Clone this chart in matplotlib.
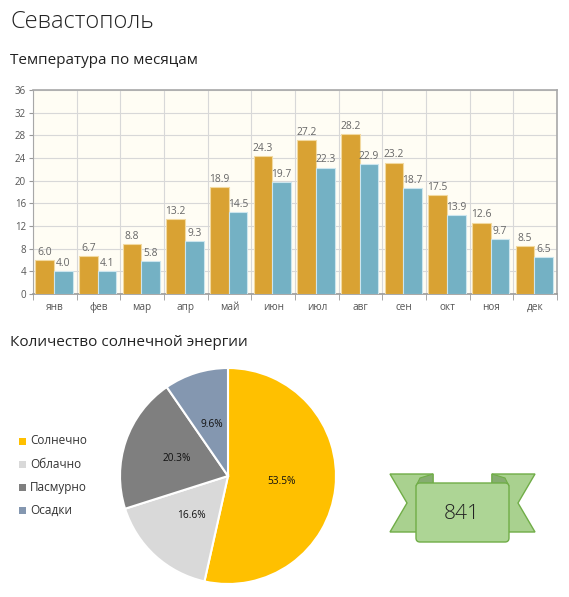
import matplotlib
matplotlib.use("Agg")
import matplotlib.pyplot as plt
from matplotlib.patches import Polygon, FancyBboxPatch, Rectangle
import numpy as np

plt.rcParams['font.family'] = ['Open Sans', 'DejaVu Sans']

months = ["янв", "фев", "мар", "апр", "май", "июн", "июл", "авг", "сен", "окт", "ноя", "дек"]
t_max = [6.0, 6.7, 8.8, 13.2, 18.9, 24.3, 27.2, 28.2, 23.2, 17.5, 12.6, 8.5]
t_min = [4.0, 4.1, 5.8, 9.3, 14.5, 19.7, 22.3, 22.9, 18.7, 13.9, 9.7, 6.5]
y_ticks = [0, 4, 8, 12, 16, 20, 24, 28, 32, 36]

sun_labels = ["Солнечно", "Облачно", "Пасмурно", "Осадки"]
sun_values = [53.5, 16.6, 20.3, 9.6]
sun_colors = ["#FFC000", "#D9D9D9", "#7F7F7F", "#8497B0"]
sun_total = "841"

W, H = 569, 597
fig = plt.figure(figsize=(W / 100, H / 100), dpi=100)
fig.patch.set_facecolor("white")

def fx(px):
    return px / W

def fy(py):
    return 1 - py / H

fig.text(fx(10), fy(22), "Севастополь", fontsize=17, color="#222222",
         va="center", ha="left", fontweight="light")
fig.text(fx(10), fy(61), "Температура по месяцам", fontsize=11, color="#222222",
         va="center", ha="left")
fig.text(fx(10), fy(343), "Количество солнечной энергии", fontsize=11, color="#222222",
         va="center", ha="left")

# Bar chart
ax = fig.add_axes([fx(33), fy(294), fx(557) - fx(33), fy(90) - fy(294)])
ax.set_facecolor("#FFFDF4")
x = np.arange(len(months))
w = 0.43
ax.bar(x - 0.235, t_max, width=w, color="#D9A233", edgecolor="#F2D9A0", linewidth=0.8, zorder=3)
ax.bar(x + 0.195, t_min, width=w, color="#74B1C4", edgecolor="#CDE6EE", linewidth=0.8, zorder=3)
for xi, v in zip(x, t_max):
    ax.text(xi - 0.235, v + 0.4, f"{v:.1f}", ha="center", va="bottom", fontsize=7.4,
            color="#666666", zorder=4)
for xi, v in zip(x, t_min):
    ax.text(xi + 0.195, v + 0.4, f"{v:.1f}", ha="center", va="bottom", fontsize=7.4,
            color="#666666", zorder=4)
ax.set_xlim(-0.5, len(months) - 0.5)
ax.set_ylim(0, 36)
ax.set_yticks(y_ticks)
ax.set_yticklabels([str(v) for v in y_ticks], fontsize=7, color="#555555")
ax.set_xticks(x)
ax.set_xticklabels(months, fontsize=7.2, color="#555555")
ax.tick_params(axis="x", length=0, pad=6)
ax.tick_params(axis="y", length=3, color="#999999", pad=2)
ax.set_xticks(np.arange(-0.5, len(months) + 0.5, 1), minor=True)
ax.tick_params(axis="x", which="minor", length=4, color="#999999")
ax.grid(True, which="major", axis="y", color="#D8D8D8", linewidth=0.8, zorder=0)
ax.grid(True, which="minor", axis="x", color="#D8D8D8", linewidth=0.8, zorder=0)
for s in ["top", "right"]:
    ax.spines[s].set_color("#A8A8A8")
    ax.spines[s].set_linewidth(1.2)
ax.spines["left"].set_color("#A8A8A8")
ax.spines["bottom"].set_color("#999999")
ax.spines["bottom"].set_linewidth(1.2)

# Pie chart
r = 108
cx, cy = 228, 476
pax = fig.add_axes([fx(cx - r), fy(cy + r), 2 * r / W, 2 * r / H])
pax.pie(
    sun_values, colors=sun_colors, startangle=90, counterclock=False,
    autopct="%1.1f%%", pctdistance=0.5, radius=1.0,
    wedgeprops=dict(edgecolor="white", linewidth=1.5),
    textprops=dict(fontsize=7.3, color="#111111"))
pax.set_xlim(-1.0, 1.0)
pax.set_ylim(-1.0, 1.0)
pax.set_aspect("equal")
pax.axis("off")

# Legend
for i, (lab, col) in enumerate(zip(sun_labels, sun_colors)):
    yy = 441 + i * 23
    fig.patches.append(Rectangle((fx(19), fy(yy + 3.5)), 7 / W, 7 / H,
                                 transform=fig.transFigure, facecolor=col, edgecolor="none"))
    fig.text(fx(30), fy(yy), lab, fontsize=8.5, color="#333333", va="center", ha="left")

# Ribbon banner
bax = fig.add_axes([0, 0, 1, 1])
bax.set_xlim(0, W)
bax.set_ylim(H, 0)
bax.axis("off")
bax.patch.set_alpha(0)
edge = "#70AD47"
left_tail = [(390, 474), (433, 474), (433, 532), (390, 532), (407, 503)]
right_tail = [(535, 474), (492, 474), (492, 532), (535, 532), (518, 503)]
bax.add_patch(Polygon(left_tail, closed=True, facecolor="#A9D18F", edgecolor=edge, linewidth=1))
bax.add_patch(Polygon(right_tail, closed=True, facecolor="#A9D18F", edgecolor=edge, linewidth=1))
bax.add_patch(Polygon([(416, 486), (420, 478), (433, 474), (433, 488)], closed=True,
                      facecolor="#86AD70", edgecolor=edge, linewidth=0.8))
bax.add_patch(Polygon([(509, 486), (505, 478), (492, 474), (492, 488)], closed=True,
                      facecolor="#86AD70", edgecolor=edge, linewidth=0.8))
bax.add_patch(FancyBboxPatch((416, 483), 93, 59, boxstyle="round,pad=0,rounding_size=4",
                             facecolor="#ADD595", edgecolor=edge, linewidth=1))
bax.text(462, 514, sun_total, ha="center", va="center", fontsize=15, color="#222222",
         fontweight="light")

fig.savefig("out.png", dpi=100, facecolor="white")
